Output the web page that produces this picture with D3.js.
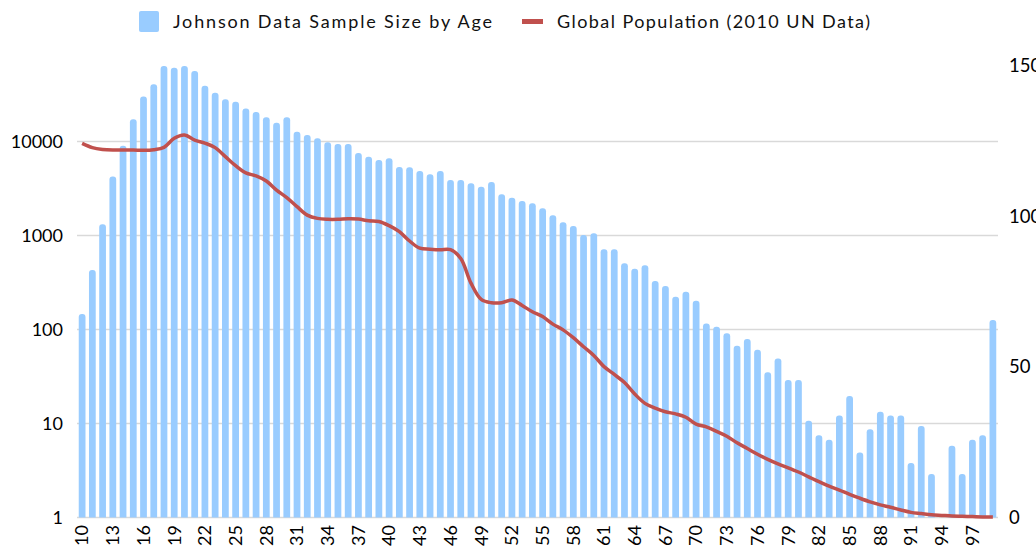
<!DOCTYPE html>
<html>
<head>
<meta charset="utf-8">
<script src="https://cdn.jsdelivr.net/npm/d3@7"></script>
<style>
  body { margin: 0; background: #fff; }
  svg { display: block; font-family: Lato, "Open Sans", sans-serif; }
</style>
</head>
<body>
<svg id="chart" width="1036" height="554"></svg>
<script>
// ages 10..99
const ages = d3.range(10, 100);

// Johnson data sample size by age (log axis), null = no bar
const sampleSize = [
  146, 430, 1320, 4250, 9020, 17200, 30200, 40600, 63600, 61000,
  63600, 56200, 39300, 33100, 28100, 26500, 22500, 20600, 18100, 15850,
  18100, 12700, 11700, 10800, 9800, 9400, 9400, 7550, 6890, 6350,
  6620, 5350, 5320, 4850, 4480, 4850, 3890, 3890, 3590, 3300,
  3710, 2740, 2525, 2330, 2200, 1945, 1640, 1382, 1262, 1012,
  1055, 713, 713, 506, 444, 482, 328, 290, 223, 252,
  202, 116, 107, 91, 67, 79, 61, 35, 49, 29,
  29, 10.7, 7.5, 6.7, 12.2, 19.6, 4.9, 8.7, 13.3, 12.2,
  12.2, 3.8, 9.4, 2.9, null, 5.8, 2.9, 6.7, 7.5, 126
];

// global population by age, 2010 UN data (right axis)
const globalPop = [
  124.2, 122.8, 122.2, 122.0, 122.0, 122.0, 121.9, 122.1, 122.9, 125.9,
  127.0, 125.3, 124.3, 122.8, 119.8, 116.8, 114.4, 113.4, 111.7, 108.7,
  106.2, 103.2, 100.4, 99.3, 99.0, 99.0, 99.2, 99.1, 98.5, 98.3,
  96.9, 94.9, 91.8, 89.4, 89.1, 88.9, 88.9, 86.0, 77.8, 72.4,
  71.3, 71.3, 72.2, 70.4, 68.3, 66.7, 64.2, 62.3, 59.7, 56.7,
  53.8, 50.1, 47.5, 44.8, 41.0, 37.9, 36.3, 35.1, 34.4, 33.3,
  31.0, 30.1, 28.6, 27.0, 24.8, 22.9, 21.0, 19.3, 17.8, 16.5,
  15.1, 13.5, 11.9, 10.4, 9.1, 7.7, 6.4, 5.2, 4.2, 3.4,
  2.5, 1.7, 1.3, 0.9, 0.7, 0.5, 0.4, 0.3, 0.2, 0.15
];

const leftTicks = [1, 10, 100, 1000, 10000];
const rightTicks = [0, 50, 100, 150];
const xLabels = ages.filter(a => (a - 10) % 3 === 0);

const svg = d3.select("#chart");
const left = 77, right = 998, bottom = 517.5;

const x = d3.scaleBand().domain(ages).range([left, right]).paddingInner(0.34).paddingOuter(0.17);
const yL = d3.scaleLog().domain([1, 100000]).range([bottom, bottom - 5 * 94]);
const yR = d3.scaleLinear().domain([0, 150]).range([bottom, bottom - 150 * 3.012]);

// gridlines
svg.append("g")
  .selectAll("line")
  .data(leftTicks)
  .join("line")
  .attr("x1", left)
  .attr("x2", right)
  .attr("y1", d => yL(d))
  .attr("y2", d => yL(d))
  .attr("stroke", "#d9d9d9")
  .attr("stroke-width", 1.5);

// bars with rounded tops
function barPath(x0, y0, w, h, r) {
  r = Math.min(r, h, w / 2);
  return `M${x0},${y0 + h}V${y0 + r}A${r},${r} 0 0 1 ${x0 + r},${y0}H${x0 + w - r}A${r},${r} 0 0 1 ${x0 + w},${y0 + r}V${y0 + h}Z`;
}

const barData = ages.map((a, i) => ({ age: a, v: sampleSize[i] })).filter(d => d.v != null);
svg.append("g")
  .selectAll("path")
  .data(barData)
  .join("path")
  .attr("fill", "#99ccff")
  .attr("d", d => {
    const top = yL(d.v);
    return barPath(x(d.age), top, x.bandwidth(), bottom - top, 3);
  });

// population line
const line = d3.line()
  .x((d, i) => x(ages[i]) + x.bandwidth() / 2)
  .y(d => yR(d))
  .curve(d3.curveCatmullRom.alpha(0.5));

svg.append("path")
  .datum(globalPop)
  .attr("fill", "none")
  .attr("stroke", "#c0504d")
  .attr("stroke-width", 3.5)
  .attr("stroke-linejoin", "round")
  .attr("d", line);

// left axis
const axisL = d3.axisLeft(yL).tickValues(leftTicks).tickFormat(d3.format("d")).tickSize(0).tickPadding(0);
svg.append("g")
  .attr("transform", "translate(63,0)")
  .call(axisL)
  .call(g => g.select(".domain").remove())
  .call(g => g.selectAll("text").attr("font-size", 18).attr("fill", "#000").attr("font-family", "Lato, sans-serif"));

// right axis (cut off by the window edge, as in the original)
const axisR = d3.axisRight(yR).tickValues(rightTicks).tickSize(0).tickPadding(0);
svg.append("g")
  .attr("transform", "translate(1009,0)")
  .call(axisR)
  .call(g => g.select(".domain").remove())
  .call(g => g.selectAll("text").attr("font-size", 18.5).attr("fill", "#000").attr("font-family", "Lato, sans-serif"));

// x labels, rotated
svg.append("g")
  .selectAll("text")
  .data(xLabels)
  .join("text")
  .attr("transform", d => `translate(${x(d) + x.bandwidth() / 2},525) rotate(-90)`)
  .attr("text-anchor", "end")
  .attr("dy", "0.35em")
  .attr("font-size", 18)
  .attr("fill", "#000")
  .text(d => d);

// legend
const legend = svg.append("g");
legend.append("rect")
  .attr("x", 139).attr("y", 11).attr("width", 20).attr("height", 21).attr("rx", 2)
  .attr("fill", "#99ccff");
legend.append("text")
  .attr("x", 173).attr("y", 28)
  .attr("font-size", 18).attr("fill", "#111")
  .attr("textLength", 319).attr("lengthAdjust", "spacing")
  .text("Johnson Data Sample Size by Age");
legend.append("rect")
  .attr("x", 522).attr("y", 19).attr("width", 21).attr("height", 5)
  .attr("fill", "#c0504d");
legend.append("text")
  .attr("x", 557).attr("y", 28)
  .attr("font-size", 18).attr("fill", "#111")
  .attr("textLength", 313).attr("lengthAdjust", "spacing")
  .text("Global Population (2010 UN Data)");
</script>
</body>
</html>
